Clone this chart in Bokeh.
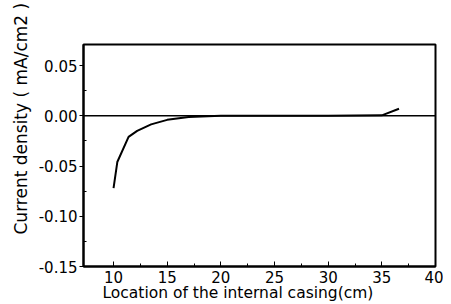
from bokeh.plotting import figure
from bokeh.models import Range1d, Span, Title, FixedTicker, CustomJSTickFormatter
from bokeh.embed import file_html
from bokeh.resources import INLINE

x_vals = [10.0, 10.35, 11.4, 12.2, 13.5, 15.0, 17.0, 20.0, 25.0, 30.0, 35.0, 36.6]
y_vals = [-0.072, -0.046, -0.021, -0.015, -0.0085, -0.004, -0.0012, 0.0, 0.0, 0.0, 0.0005, 0.007]
x_ticks = [10, 15, 20, 25, 30, 35, 40]
x_minor = [12.5, 17.5, 22.5, 27.5, 32.5, 37.5]
y_ticks = [-0.15, -0.10, -0.05, 0.00, 0.05]
y_minor = [-0.125, -0.075, -0.025, 0.025]
x_title = "Location of the internal casing(cm)"
y_title = "Current density ( mA/cm2 )"

FONT = "DejaVu Sans"

p = figure(width=443, height=304, output_backend="svg", toolbar_location=None,
           x_range=Range1d(7.2, 40), y_range=Range1d(-0.15, 0.071),
           min_border_left=83, min_border_right=8, min_border_top=44, min_border_bottom=38)
p.background_fill_color = "white"
p.border_fill_color = "white"
p.outline_line_color = "black"
p.outline_line_width = 2
p.grid.visible = False

xa = p.xaxis[0]
xa.ticker = FixedTicker(ticks=x_ticks, minor_ticks=x_minor)
xa.major_tick_in = 5
xa.major_tick_out = 0
xa.minor_tick_in = 3
xa.minor_tick_out = 0
xa.major_label_standoff = 4
xa.major_label_text_font = FONT
xa.major_label_text_font_size = "15px"
xa.major_label_text_color = "black"
xa.axis_line_width = 2

ya = p.yaxis[0]
ya.ticker = FixedTicker(ticks=y_ticks, minor_ticks=y_minor)
ya.formatter = CustomJSTickFormatter(code="return tick.toFixed(2);")
ya.major_tick_in = 0
ya.major_tick_out = 4
ya.minor_tick_in = 3
ya.minor_tick_out = 0
ya.major_label_standoff = 2
ya.major_label_text_font = FONT
ya.major_label_text_font_size = "15px"
ya.major_label_text_color = "black"
ya.axis_line_width = 2

p.add_layout(Span(location=0, dimension="width", line_color="black", line_width=1.6))
p.line(x_vals, y_vals, line_color="black", line_width=2)

p.add_layout(Title(text=x_title, align="left", offset=19, standoff=-8,
                   text_font=FONT, text_font_size="15.5px", text_font_style="normal",
                   text_color="black"), "below")
p.add_layout(Title(text=y_title, align="left", offset=32, standoff=10,
                   text_font=FONT, text_font_size="17px", text_font_style="normal",
                   text_color="black"), "left")

open("out.html", "w").write(file_html(p, INLINE))
